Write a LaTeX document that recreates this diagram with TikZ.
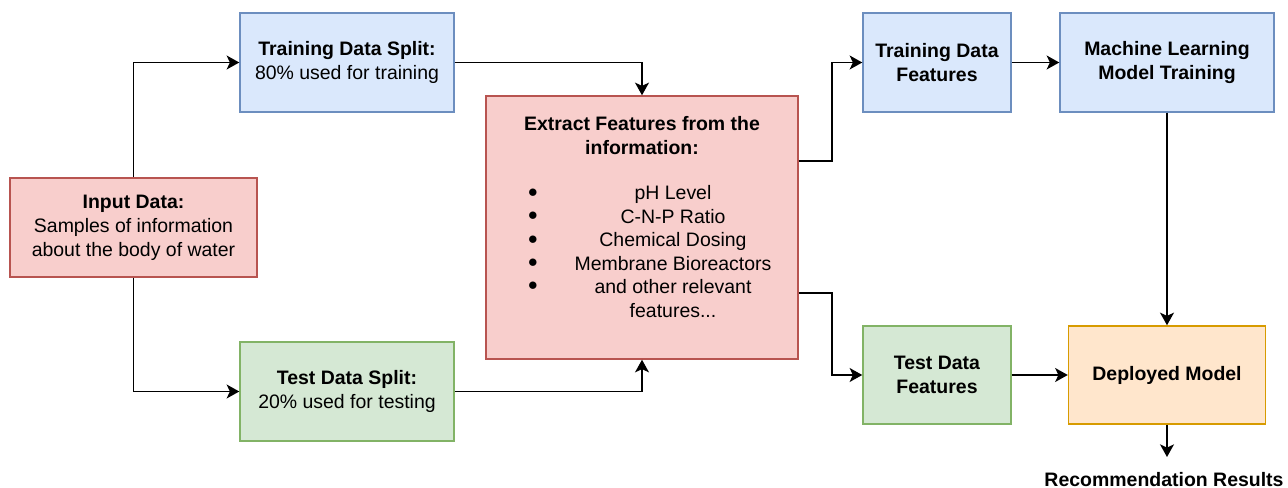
\documentclass[tikz,border=0pt]{standalone}
\usepackage{fontspec}
\setmainfont{Liberation Sans}
\usetikzlibrary{arrows.meta}
\definecolor{redF}{HTML}{F8CECC}\definecolor{redD}{HTML}{B85450}
\definecolor{bluF}{HTML}{DAE8FC}\definecolor{bluD}{HTML}{6C8EBF}
\definecolor{grnF}{HTML}{D5E8D4}\definecolor{grnD}{HTML}{82B366}
\definecolor{orgF}{HTML}{FFE6CC}\definecolor{orgD}{HTML}{D79B00}
\begin{document}
\begin{tikzpicture}[x=0.75pt,y=-0.75pt,
  txt/.style={inner sep=0pt, align=center, font=\fontsize{14.6pt}{18pt}\selectfont},
  box/.style={txt, draw, line width=1.1pt},
  redbox/.style={box, fill=redF, draw=redD},
  blubox/.style={box, fill=bluF, draw=bluD},
  grnbox/.style={box, fill=grnF, draw=grnD},
  orgbox/.style={box, fill=orgF, draw=orgD},
  arr/.style={line width=1.2pt, -{Stealth[length=9.5pt,width=10.5pt,inset=2.5pt]}},
  ln/.style={line width=1.2pt}]
\useasboundingbox (0,0) rectangle (1288,488);

\node[redbox, minimum width=247*0.75pt, minimum height=99*0.75pt] (inp) at (133.5,227.5)
  {\textbf{Input Data:}\\Samples of information\\about the body of water};
\node[blubox, minimum width=214*0.75pt, minimum height=99*0.75pt] (trs) at (347,62.5)
  {\textbf{Training Data Split:}\\80\% used for training};
\node[grnbox, minimum width=214*0.75pt, minimum height=99*0.75pt] (tes) at (347,391.5)
  {\textbf{Test Data Split:}\\20\% used for testing};
\node[redbox, minimum width=312*0.75pt, minimum height=263*0.75pt] (ext) at (642,227.5) {};
\node[txt, font=\bfseries\fontsize{14.6pt}{18pt}\selectfont] (extt) at (642,136)
  {Extract Features from the\\information:};
\node[txt, font=\fontsize{14.6pt}{17.6pt}\selectfont] (exti) at (673,251.5)
  {pH Level\\C-N-P Ratio\\Chemical Dosing\\Membrane Bioreactors\\and other relevant\\features...};
\node[txt, font=\fontsize{14.6pt}{17.6pt}\selectfont] (extb) at (533,239.8)
  {$\bullet$\\$\bullet$\\$\bullet$\\$\bullet$\\$\bullet$};
\node[blubox, minimum width=148*0.75pt, minimum height=99*0.75pt] (trf) at (937,62.5)
  {\textbf{Training Data}\\\textbf{Features}};
\node[blubox, minimum width=214*0.75pt, minimum height=99*0.75pt] (mlt) at (1167,62.5)
  {\textbf{Machine Learning}\\\textbf{Model Training}};
\node[grnbox, minimum width=148*0.75pt, minimum height=98*0.75pt] (tef) at (937,375)
  {\textbf{Test Data}\\\textbf{Features}};
\node[orgbox, minimum width=197*0.75pt, minimum height=98*0.75pt] (dep) at (1167,375)
  {\textbf{Deployed Model}};
\coordinate (recend) at (1167,457);
\node[txt, font=\bfseries\fontsize{14.6pt}{18pt}\selectfont] (rec) at (1164,480) {Recommendation Results};

\draw[arr] (inp.north) |- (trs.west);
\draw[arr] (inp.south) |- (tes.west);
\draw[arr] (trs.east) -| (ext.north);
\draw[arr] (tes.east) -| (ext.south);
\draw[arr] ([yshift=66.5*0.75pt]ext.east) -- ++(33,0) |- (trf.west);
\draw[arr] ([yshift=-65.5*0.75pt]ext.east) -- ++(33,0) |- (tef.west);
\draw[arr] (trf.east) -- (mlt.west);
\draw[arr] (mlt.south) -- (dep.north);
\draw[arr] (tef.east) -- (dep.west);
\draw[arr] (dep.south) -- (recend);
\end{tikzpicture}
\end{document}
